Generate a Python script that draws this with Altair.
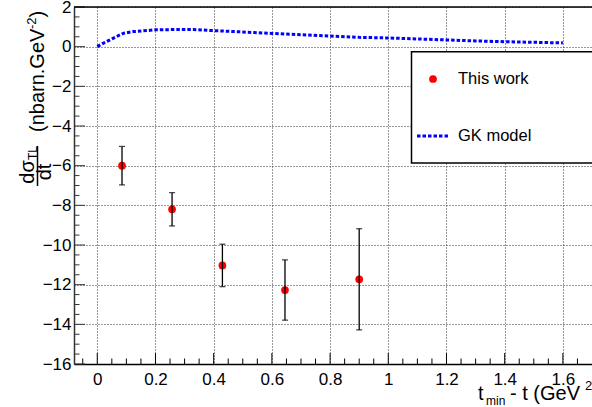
import altair as alt
import pandas as pd
import numpy as np

# ---- data ----
t_data = [0.085, 0.257, 0.43, 0.645, 0.90]
sigma_data = [-6.0, -8.2, -11.03, -12.27, -11.73]
sigma_err = [0.97, 0.84, 1.07, 1.52, 2.55]

gk_t = [0.0, 0.02, 0.054, 0.089, 0.123, 0.169, 0.2, 0.25, 0.3, 0.33, 0.4, 0.5, 0.6,
        0.7, 0.8, 0.9, 1.0, 1.1, 1.2, 1.3, 1.4, 1.5, 1.6]
gk_val = [0.0, 0.17, 0.42, 0.67, 0.76, 0.81, 0.85, 0.86, 0.86, 0.86, 0.81, 0.74, 0.67,
          0.6, 0.54, 0.47, 0.44, 0.39, 0.34, 0.29, 0.25, 0.22, 0.19]

x_major = [0, 0.2, 0.4, 0.6, 0.8, 1.0, 1.2, 1.4, 1.6]
y_major = [-16, -14, -12, -10, -8, -6, -4, -2, 0, 2]

FONT = "Liberation Sans"
W, H = 518, 357
xs = alt.Scale(domain=[-0.08, 1.7], nice=False, zero=False)
ys = alt.Scale(domain=[-16, 2], nice=False, zero=False)

x_minor = [round(v, 2) for v in np.arange(-0.05, 1.70, 0.05)
           if min(abs(v - m) for m in x_major) > 1e-6]
y_minor = [round(v, 2) for v in np.arange(-16, 2.01, 0.5)
           if min(abs(v - m) for m in y_major) > 1e-6]

pts = pd.DataFrame({
    "t": t_data,
    "s": sigma_data,
    "lo": [s - e for s, e in zip(sigma_data, sigma_err)],
    "hi": [s + e for s, e in zip(sigma_data, sigma_err)],
})
gk = pd.DataFrame({"t": gk_t, "v": gk_val})
one = pd.DataFrame({"a": [0]})

x_axis = alt.Axis(values=x_major, format="~g", grid=True, gridDash=[1, 2],
                  gridColor="#333", gridWidth=1, ticks=False, tickSize=0,
                  domainColor="black", domainWidth=1.5, labelFont=FONT,
                  labelFontSize=17, labelColor="black", labelPadding=7,
                  labelFlush=False, labelOverlap=False)
y_axis = alt.Axis(values=y_major, format="d", grid=True, gridDash=[1, 2],
                  gridColor="#333", gridWidth=1, ticks=False, tickSize=0,
                  domainColor="#333", domainWidth=1.5, labelFont=FONT,
                  labelFontSize=17, labelColor="black", labelPadding=3,
                  labelFlush=False, labelOverlap=False)


def X(f):
    return alt.X(f, scale=xs, title=None, axis=x_axis)


def Y(f):
    return alt.Y(f, scale=ys, title=None, axis=y_axis)


base = alt.Chart(pts)

points = base.mark_circle(size=60, color="#ff0000", opacity=1).encode(
    x=X("t:Q"), y=Y("s:Q"))
bars = base.mark_rule(color="black", strokeWidth=1.3).encode(
    x=X("t:Q"), y=Y("lo:Q"), y2="hi:Q")
cap_lo = base.mark_tick(color="black", orient="horizontal", size=6, thickness=1.3).encode(
    x=X("t:Q"), y=Y("lo:Q"))
cap_hi = base.mark_tick(color="black", orient="horizontal", size=6, thickness=1.3).encode(
    x=X("t:Q"), y=Y("hi:Q"))

gk_line = alt.Chart(gk).mark_line(color="#0000ff", strokeWidth=3,
                                  strokeDash=[3.5, 2]).encode(x=X("t:Q"), y=Y("v:Q"))

# inward ticks (ROOT style)
xmaj = alt.Chart(pd.DataFrame({"v": x_major})).mark_rule(color="black", strokeWidth=1).encode(
    x=X("v:Q"), y=alt.value(H), y2=alt.value(H - 11))
xmin = alt.Chart(pd.DataFrame({"v": x_minor})).mark_rule(color="black", strokeWidth=1).encode(
    x=X("v:Q"), y=alt.value(H), y2=alt.value(H - 5.5))
ymaj = alt.Chart(pd.DataFrame({"v": y_major})).mark_rule(color="#333", strokeWidth=1).encode(
    y=Y("v:Q"), x=alt.value(0), x2=alt.value(11))
ymin = alt.Chart(pd.DataFrame({"v": y_minor})).mark_rule(color="#333", strokeWidth=1).encode(
    y=Y("v:Q"), x=alt.value(0), x2=alt.value(5.5))

top_frame = alt.Chart(one).mark_rule(color="black", strokeWidth=1.5).encode(
    x=alt.value(0), x2=alt.value(W), y=alt.value(0))

# legend box
leg_box = alt.Chart(one).mark_rect(fill="white", stroke="black", strokeWidth=1.5).encode(
    x=alt.value(337.5), x2=alt.value(540), y=alt.value(44.7), y2=alt.value(156))
leg_dot = alt.Chart(one).mark_circle(size=60, color="#ff0000", opacity=1).encode(
    x=alt.value(359), y=alt.value(72))
leg_line = alt.Chart(one).mark_rule(color="#0000ff", strokeWidth=3, strokeDash=[3.5, 2]).encode(
    x=alt.value(343), x2=alt.value(375), y=alt.value(129))


def txt(s, x, y, size, angle=0, align="left", baseline="alphabetic"):
    kw = dict(text=s, font=FONT, fontSize=size, color="black", align=align,
              baseline=baseline)
    if angle:
        kw["angle"] = angle
    return alt.Chart(one).mark_text(**kw).encode(x=alt.value(x), y=alt.value(y))


texts = [
    txt("This work", 384, 72, 16.5, baseline="middle"),
    txt("GK model", 384, 129, 16.5, baseline="middle"),
    # x axis title
    txt("t", 404, 393, 20),
    txt("min", 412, 398, 12),
    txt("- t (GeV", 436, 393, 20),
    txt("2", 511, 383, 13),
    # y axis title (rotated)
    txt("(nbarn.GeV", -30, 125, 20, angle=270),
    txt("-2", -38, 22, 13, angle=270),
    txt(")", -30, 10.4, 20, angle=270),
    txt("d\u03c3", -40, 165, 20, angle=270, align="center"),
    txt("TL", -37, 146, 12, angle=270, align="center"),
    txt("dt", -23, 165, 20, angle=270, align="center"),
]
frac_bar = alt.Chart(one).mark_rule(color="black", strokeWidth=1.5).encode(
    x=alt.value(-36.5), y=alt.value(139), y2=alt.value(179))

chart = alt.layer(
    points, xmaj, xmin, ymaj, ymin, top_frame, gk_line, bars, cap_lo, cap_hi,
    leg_box, leg_dot, leg_line, frac_bar, *texts
).properties(
    width=W, height=H,
    padding={"left": 74, "top": 7, "right": 0, "bottom": 43},
    autosize=alt.AutoSizeParams(type="none"),
    background="white",
).configure_view(strokeWidth=0)

chart.save("out.html", embed_options={"renderer": "svg", "actions": False})
